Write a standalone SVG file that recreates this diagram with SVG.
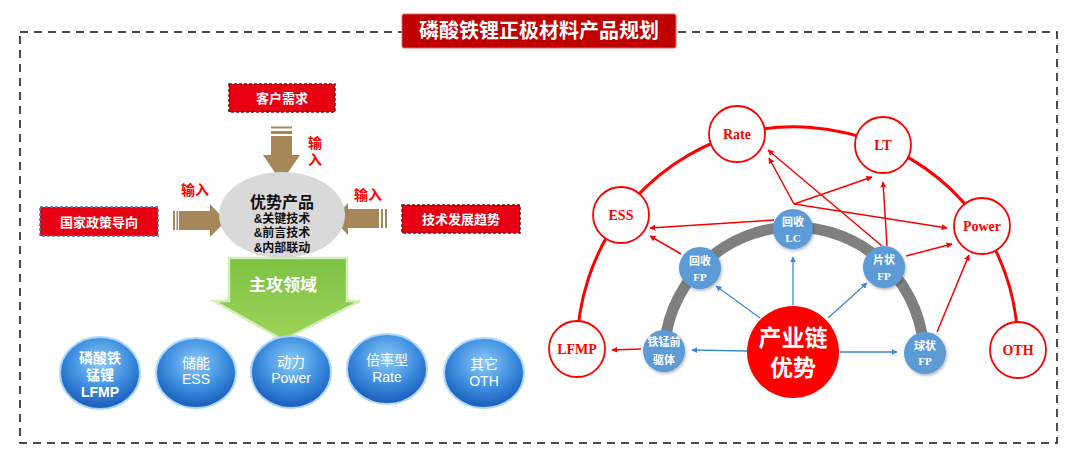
<svg xmlns="http://www.w3.org/2000/svg" width="1080" height="462" viewBox="0 0 1080 462">
<defs>
<style>
.cjk{font-family:"Liberation Sans","Noto Sans CJK SC",sans-serif}
.rbox{fill:#e60012;stroke:#7a1010;stroke-width:1.5;stroke-dasharray:3 2}
.boxt{fill:#fff;font-size:13px;font-weight:bold;text-anchor:middle;dominant-baseline:central}
.brown{fill:#a5875a}
.inp{fill:#ff0000;font-size:14px;font-weight:bold;text-anchor:middle;dominant-baseline:central}
.gt{fill:#111;font-weight:bold;text-anchor:middle;dominant-baseline:central}
.sph{fill:url(#sphg);stroke:#a9d6fa;stroke-width:2}
.spt{fill:#fff;font-size:14px;text-anchor:middle;dominant-baseline:central}
.rc{fill:#fff;stroke:#ff0000;stroke-width:1.8}
.rct{fill:#ff0000;font-family:"Liberation Serif","Noto Sans CJK SC",serif;font-weight:bold;font-size:14px;text-anchor:middle;dominant-baseline:central}
.bn{fill:#5b9bd5;filter:url(#sh)}
.bnt{fill:#fff;font-family:"Liberation Serif","Noto Sans CJK SC",serif;font-weight:bold;font-size:11px;text-anchor:middle;dominant-baseline:central}
.ra{stroke:#ff0000;stroke-width:1.5;fill:none;marker-end:url(#ar)}
.ba{stroke:#3b8ad6;stroke-width:1.3;fill:none;marker-end:url(#ab)}
</style>
<radialGradient id="sphg" cx="50%" cy="35%" r="60%">
<stop offset="0" stop-color="#8ccbf7"/>
<stop offset="0.6" stop-color="#3f8fe0"/>
<stop offset="1" stop-color="#1f63c0"/>
</radialGradient>
<linearGradient id="grg" x1="0" y1="0" x2="0" y2="1">
<stop offset="0" stop-color="#7cc242"/>
<stop offset="1" stop-color="#9ed35a"/>
</linearGradient>
<filter id="sh" x="-30%" y="-30%" width="160%" height="160%">
<feDropShadow dx="1" dy="1.5" stdDeviation="1.5" flood-color="#000" flood-opacity="0.3"/>
</filter>
<marker id="ar" viewBox="0 0 10 10" refX="9" refY="5" markerWidth="6" markerHeight="6" orient="auto" markerUnits="userSpaceOnUse">
<path d="M0,0 L10,5 L0,10 Z" fill="#ff0000"/>
</marker>
<marker id="ab" viewBox="0 0 10 10" refX="9" refY="5" markerWidth="6" markerHeight="6" orient="auto" markerUnits="userSpaceOnUse">
<path d="M0,0 L10,5 L0,10 Z" fill="#3b8ad6"/>
</marker>
</defs>
<rect width="1080" height="462" fill="#fff"/>
<rect x="20" y="32" width="1037" height="411" fill="none" stroke="#111" stroke-width="1.5" stroke-dasharray="8 6"/>
<g id="title">
<rect x="402" y="14" width="274" height="34" rx="2" fill="#c00000" stroke="#e06666" stroke-width="1"/>
<text x="539" y="31" class="cjk" fill="#fff" font-size="20" font-weight="bold" text-anchor="middle" dominant-baseline="central">磷酸铁锂正极材料产品规划</text>
</g>
<g id="left-arrows">
<rect x="271" y="126.5" width="21" height="2" class="brown"/>
<rect x="271" y="131" width="21" height="3" class="brown"/>
<path d="M271,136 H292 V155 H300 L281.5,182 L263,155 H271 Z" class="brown"/>
<rect x="173" y="211" width="2" height="19" class="brown"/>
<rect x="176.5" y="211" width="1.5" height="19" class="brown"/>
<path d="M179,211 V230 H210 V237 L226,221 L210,204 V211 Z" class="brown"/>
<rect x="385" y="209" width="2" height="19" class="brown"/>
<rect x="381" y="209" width="2" height="19" class="brown"/>
<path d="M379,209 V228 H348 V235 L333,219 L348,203 V209 Z" class="brown"/>
</g>
<g id="core">
<ellipse cx="282" cy="215" rx="63" ry="43" fill="#d9d9d9"/>
<text x="282" y="202" class="cjk gt" font-size="16">优势产品</text>
<text x="282" y="219" class="cjk gt" font-size="12">&amp;关键技术</text>
<text x="282" y="233" class="cjk gt" font-size="12">&amp;前言技术</text>
<text x="282" y="248" class="cjk gt" font-size="12">&amp;内部联动</text>
</g>
<g id="arrows" class="brown"/>
<g id="box-customer">
<rect x="229" y="84" width="106" height="28" class="rbox"/>
<text x="282" y="98" class="cjk boxt">客户需求</text>
</g>
<g id="box-policy">
<rect x="40" y="207" width="118" height="29" class="rbox" style="stroke:#3a7ebf"/>
<text x="99" y="222" class="cjk boxt">国家政策导向</text>
</g>
<g id="box-tech">
<rect x="402" y="205" width="118" height="28" class="rbox"/>
<text x="461" y="219" class="cjk boxt">技术发展趋势</text>
</g>
<g id="input-labels">
<text x="315" y="143" class="cjk inp">输</text>
<text x="315" y="160" class="cjk inp">入</text>
<text x="195" y="190" class="cjk inp">输入</text>
<text x="368" y="195" class="cjk inp">输入</text>
</g>
<g id="main-arrow">
<path d="M229,258 H347 V301 H360 L283,340 L214,301 H229 Z" fill="url(#grg)" stroke="#d4ecb8" stroke-width="2.5"/>
<text x="283" y="285" class="cjk" fill="#fff" font-size="17" font-weight="bold" text-anchor="middle" dominant-baseline="central">主攻领域</text>
</g>
<g id="sph-lfmp">
<ellipse cx="100" cy="373" rx="40" ry="36" class="sph"/>
<text x="100" y="358" class="cjk spt" font-weight="bold" font-size="13">磷酸铁</text>
<text x="100" y="375" class="cjk spt" font-weight="bold" font-size="13">锰锂</text>
<text x="100" y="392" class="cjk spt" font-weight="bold" font-size="13">LFMP</text>
</g>
<g id="sph-ess">
<ellipse cx="196" cy="373" rx="40" ry="35" class="sph"/>
<text x="196" y="363" class="cjk spt">储能</text>
<text x="196" y="379" class="cjk spt">ESS</text>
</g>
<g id="sph-power">
<ellipse cx="291" cy="372" rx="40" ry="36" class="sph"/>
<text x="291" y="362" class="cjk spt">动力</text>
<text x="291" y="378" class="cjk spt">Power</text>
</g>
<g id="sph-rate">
<ellipse cx="387" cy="369" rx="40" ry="35" class="sph"/>
<text x="387" y="360" class="cjk spt">倍率型</text>
<text x="387" y="377" class="cjk spt">Rate</text>
</g>
<g id="sph-oth">
<ellipse cx="484" cy="373" rx="40" ry="35" class="sph"/>
<text x="484" y="364" class="cjk spt">其它</text>
<text x="484" y="381" class="cjk spt">OTH</text>
</g>
<g id="connectors">
<path d="M577,349 A228,228 0 0 1 621,215 A228,228 0 0 1 737,134 A228,228 0 0 1 883,145 A228,228 0 0 1 982,226 A228,228 0 0 1 1018,350" fill="none" stroke="#ff0000" stroke-width="3"/>
<path d="M664,357 A130,130 0 0 1 924,357" fill="none" stroke="#7f7f7f" stroke-width="11"/>
<line x1="774" y1="220" x2="650" y2="228" class="ra"/>
<line x1="681" y1="254" x2="650" y2="236" class="ra"/>
<line x1="794" y1="204" x2="769" y2="158" class="ra"/>
<line x1="794" y1="204" x2="872" y2="177" class="ra"/>
<line x1="794" y1="204" x2="947" y2="228" class="ra"/>
<line x1="882" y1="246" x2="768" y2="150" class="ra"/>
<line x1="887" y1="246" x2="883" y2="182" class="ra"/>
<line x1="906" y1="256" x2="952" y2="244" class="ra"/>
<line x1="937" y1="332" x2="969" y2="255" class="ra"/>
<line x1="641" y1="349" x2="612" y2="350" class="ra"/>
<line x1="760" y1="318" x2="716" y2="286" class="ba"/>
<line x1="793" y1="305" x2="793" y2="257" class="ba"/>
<line x1="828" y1="318" x2="867" y2="283" class="ba"/>
<line x1="840" y1="352" x2="897" y2="352" class="ba"/>
<line x1="747" y1="351" x2="692" y2="350" class="ba"/>
</g>
<g id="n-rate"><circle cx="737" cy="134" r="28" class="rc"/><text x="737" y="134" class="rct">Rate</text></g>
<g id="n-lt"><circle cx="883" cy="145" r="28" class="rc"/><text x="883" y="145" class="rct">LT</text></g>
<g id="n-ess"><circle cx="621" cy="215" r="28" class="rc"/><text x="621" y="215" class="rct">ESS</text></g>
<g id="n-power"><circle cx="982" cy="226" r="28" class="rc"/><text x="982" y="226" class="rct">Power</text></g>
<g id="n-lfmp"><circle cx="577" cy="349" r="28" class="rc"/><text x="577" y="349" class="rct">LFMP</text></g>
<g id="n-oth"><circle cx="1018" cy="350" r="28" class="rc"/><text x="1018" y="350" class="rct">OTH</text></g>
<g id="n-lc"><circle cx="793" cy="229" r="20" class="bn"/><text x="793" y="222" class="bnt">回收</text><text x="793" y="238" class="bnt">LC</text></g>
<g id="n-rfp"><circle cx="700" cy="268" r="21" class="bn"/><text x="700" y="261" class="bnt">回收</text><text x="700" y="277" class="bnt">FP</text></g>
<g id="n-pfp"><circle cx="884" cy="267" r="21" class="bn"/><text x="884" y="260" class="bnt">片状</text><text x="884" y="276" class="bnt">FP</text></g>
<g id="n-sfp"><circle cx="925" cy="353" r="21" class="bn"/><text x="925" y="346" class="bnt">球状</text><text x="925" y="361" class="bnt">FP</text></g>
<g id="n-pre"><circle cx="664" cy="351" r="21" class="bn"/><text x="664" y="342" class="bnt" font-size="10">铁锰前</text><text x="664" y="360" class="bnt" font-size="10">驱体</text></g>
<g id="n-core"><circle cx="793" cy="352" r="46" fill="#ff0000"/><text x="793" y="338" class="cjk" fill="#fff" font-size="23" font-weight="bold" text-anchor="middle" dominant-baseline="central">产业链</text><text x="793" y="368" class="cjk" fill="#fff" font-size="23" font-weight="bold" text-anchor="middle" dominant-baseline="central">优势</text></g>
</svg>
